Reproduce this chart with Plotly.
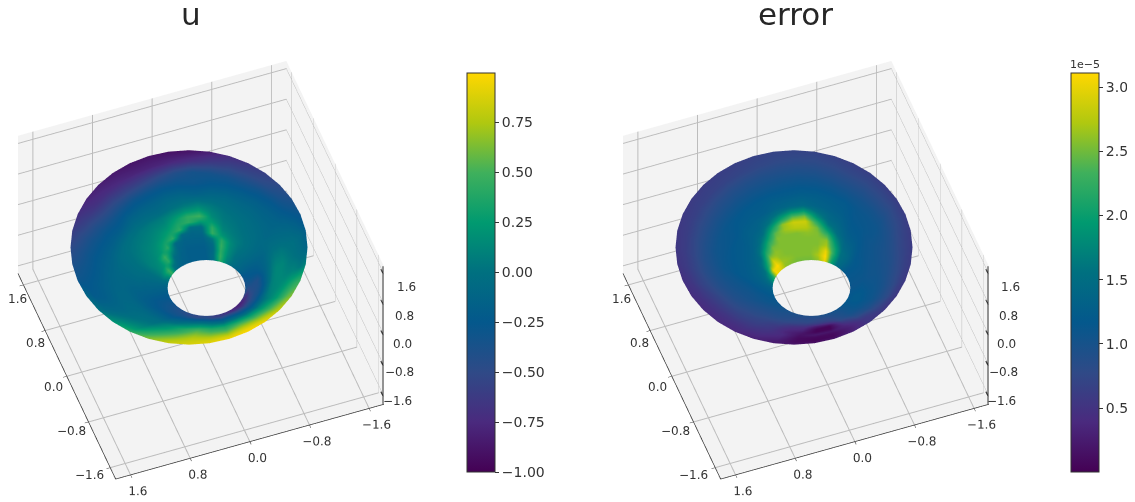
import numpy as np
import plotly.graph_objects as go

axis_ticks = [-1.6, -0.8, 0.0, 0.8, 1.6]
tick_text = ["\u22121.6", "\u22120.8", "0.0", "0.8", "1.6"]
cb_u_ticks = [-1.0, -0.75, -0.5, -0.25, 0.0, 0.25, 0.5, 0.75]
cb_u_text = ["\u22121.00", "\u22120.75", "\u22120.50", "\u22120.25", "0.00", "0.25", "0.50", "0.75"]
cb_err_ticks = [0.5, 1.0, 1.5, 2.0, 2.5, 3.0]
cb_err_text = ["0.5", "1.0", "1.5", "2.0", "2.5", "3.0"]
ring_t = [0, .05, .1, .15, .2, .25, .3, .35, .4, .45, .5, .6, .7, .8, .9, 1]
angles_deg = list(range(0, 360, 10))
# columns: angle 0,10,...,350 counter-clockwise from screen right; rows: ring_t, hole edge to rim
u_values = [
[-.35,-.38,-.3,-.2,-.15,-.05,.1,.4,-.05,-.2,-.2,-.2,-.18,-.15,-.05,.45,.1,-.05,-.15,-.2,-.25,-.3,-.35,-.4,-.42,-.45,-.5,-.5,-.55,-.6,-.65,-.7,-.75,-.7,-.6,-.45],
[-.4,-.3,-.25,-.15,-.08,0,.12,.45,-.05,-.2,-.2,-.2,-.17,-.1,.05,.45,.2,0,-.12,-.18,-.24,-.3,-.35,-.4,-.45,-.5,-.52,-.45,-.58,-.62,-.68,-.75,-.8,-.78,-.7,-.55],
[-.38,-.28,-.22,-.14,-.07,0,.15,.42,-.08,-.2,-.2,-.2,-.15,-.05,.4,.22,.12,0,-.1,-.16,-.22,-.28,-.33,-.37,-.38,-.42,-.42,-.4,-.5,-.55,-.55,-.65,-.72,-.65,-.55,-.45],
[-.4,-.27,-.2,-.12,-.05,.02,.15,.45,-.05,-.18,-.18,-.18,-.12,.15,.45,.18,.1,0,-.08,-.14,-.2,-.27,-.3,-.34,-.35,-.32,-.28,-.25,-.35,-.45,-.42,-.52,-.6,-.55,-.48,-.42],
[-.4,-.25,-.18,-.1,-.03,.03,.15,.4,.05,-.15,-.15,-.15,-.08,.4,.22,.14,.1,0,-.07,-.13,-.18,-.25,-.28,-.3,-.3,-.22,-.15,-.1,-.2,-.32,-.3,-.4,-.48,-.45,-.4,-.4],
[-.3,-.2,-.16,-.09,-.02,.04,.1,.2,.45,-.1,-.12,-.08,.42,.3,.18,.12,.08,0,-.06,-.12,-.17,-.22,-.25,-.25,-.25,-.15,-.05,0,-.08,-.2,-.2,-.3,-.38,-.38,-.36,-.35],
[-.2,-.15,-.14,-.08,-.02,.02,.06,.12,.42,-.05,-.05,.42,.3,.2,.14,.1,.06,0,-.05,-.1,-.16,-.2,-.22,-.2,-.2,-.08,.05,.1,.02,-.1,-.1,-.2,-.3,-.3,-.28,-.25],
[-.1,-.1,-.12,-.08,-.03,0,.04,.08,.25,.25,.42,.35,.2,.15,.1,.08,.04,-.01,-.05,-.1,-.15,-.18,-.18,-.16,-.15,-.02,.12,.2,.1,0,0,-.1,-.2,-.2,-.18,-.15],
[0,-.03,-.08,-.08,-.04,-.02,.02,.05,.15,.48,.42,.25,.12,.1,.07,.05,.02,-.02,-.06,-.1,-.14,-.15,-.14,-.12,-.1,.05,.2,.3,.2,.1,.1,0,-.1,-.1,-.05,-.02],
[.08,.03,-.05,-.08,-.06,-.03,0,.03,.1,.25,.2,.12,.06,.05,.04,.02,0,-.03,-.07,-.1,-.12,-.12,-.1,-.08,-.05,.12,.3,.42,.3,.2,.2,.1,0,0,.05,.08],
[.12,.05,-.03,-.1,-.07,-.05,-.03,0,.05,.1,.05,0,-.05,-.03,-.02,-.02,-.03,-.05,-.08,-.1,-.11,-.1,-.08,-.05,-.02,.18,.38,.5,.38,.3,.3,.2,.1,.05,.1,.12],
[.12,.05,-.05,-.12,-.12,-.1,-.1,-.08,-.1,-.15,-.12,-.12,-.15,-.15,-.15,-.2,-.18,-.16,-.15,-.13,-.12,-.1,-.07,-.02,.02,.25,.45,.6,.5,.42,.5,.38,.25,.15,.14,.13],
[.05,0,-.08,-.15,-.17,-.18,-.2,-.22,-.25,-.3,-.28,-.28,-.3,-.3,-.32,-.32,-.28,-.25,-.22,-.2,-.17,-.15,-.1,0,.08,.35,.55,.7,.62,.55,.65,.55,.4,.25,.2,.1],
[0,-.02,-.12,-.22,-.26,-.3,-.35,-.35,-.35,-.35,-.42,-.5,-.55,-.55,-.52,-.5,-.42,-.35,-.3,-.27,-.22,-.2,-.1,.05,.15,.45,.65,.78,.75,.7,.8,.7,.55,.4,.3,.1],
[-.05,-.08,-.2,-.32,-.4,-.48,-.52,-.55,-.62,-.7,-.75,-.78,-.78,-.75,-.72,-.68,-.58,-.48,-.4,-.33,-.27,-.22,-.08,.12,.25,.55,.75,.83,.85,.85,.93,.85,.68,.55,.4,.05],
[-.12,-.2,-.3,-.4,-.5,-.58,-.65,-.72,-.82,-.9,-.9,-.88,-.88,-.85,-.82,-.78,-.7,-.6,-.5,-.4,-.3,-.1,0,.2,.4,.65,.82,.86,.9,.95,.98,.95,.8,.65,.45,.1],
]
# error values in units of 1e-5, same grid
err_values = [
[1.1,1.12,1.13,1.15,1.3,1.5,2.0,3.0,2.6,2.5,2.5,2.5,2.55,2.6,2.9,3.1,2.2,1.7,1.35,1.25,1.15,1.1,1.05,1.0,.95,.92,.9,.9,.92,.95,1.0,1.05,1.1,1.15,1.15,1.12],
[1.1,1.12,1.14,1.18,1.35,1.55,2.1,3.1,2.7,2.55,2.55,2.55,2.6,2.65,3.1,3.0,1.9,1.55,1.32,1.22,1.15,1.1,1.05,1.0,.95,.92,.88,.88,.9,.92,.97,1.02,1.1,1.17,1.18,1.15],
[1.1,1.12,1.15,1.2,1.4,1.55,2.2,3.0,2.6,2.55,2.55,2.55,2.55,2.6,2.9,2.2,1.6,1.42,1.3,1.2,1.12,1.1,1.03,.98,.93,.9,.85,.85,.85,.88,.95,1.0,1.1,1.18,1.2,1.15],
[1.1,1.12,1.15,1.2,1.4,1.55,2.1,2.7,2.55,2.55,2.55,2.55,2.55,2.6,2.5,1.8,1.45,1.35,1.27,1.18,1.1,1.08,1.0,.95,.92,.87,.82,.82,.8,.82,.92,1.0,1.1,1.2,1.2,1.15],
[1.1,1.12,1.15,1.18,1.35,1.45,1.9,2.6,2.55,2.55,2.55,2.55,2.55,2.5,2.1,1.5,1.35,1.3,1.25,1.15,1.08,1.05,.98,.93,.9,.85,.8,.8,.75,.78,.9,1.0,1.12,1.2,1.2,1.15],
[1.08,1.1,1.13,1.16,1.3,1.38,1.7,2.3,2.55,2.6,2.55,2.55,2.55,2.2,1.7,1.4,1.3,1.25,1.22,1.12,1.05,1.03,.95,.9,.87,.82,.75,.75,.7,.72,.88,1.0,1.12,1.2,1.18,1.12],
[1.06,1.08,1.1,1.14,1.25,1.3,1.5,1.9,2.5,2.75,2.75,2.65,2.4,1.8,1.45,1.3,1.25,1.22,1.2,1.1,1.03,1.0,.93,.87,.84,.78,.7,.65,.62,.65,.85,1.0,1.12,1.18,1.15,1.1],
[1.05,1.06,1.08,1.12,1.2,1.25,1.42,1.6,2.2,2.85,2.85,2.6,2.0,1.5,1.35,1.25,1.22,1.2,1.18,1.08,1.02,.98,.9,.85,.8,.72,.6,.55,.45,.52,.82,1.0,1.1,1.15,1.12,1.08],
[1.05,1.05,1.07,1.1,1.17,1.2,1.35,1.45,1.8,2.5,2.4,2.0,1.6,1.35,1.3,1.22,1.2,1.18,1.15,1.06,1.0,.95,.88,.82,.75,.68,.5,.45,.25,.35,.8,.98,1.08,1.12,1.1,1.07],
[1.03,1.03,1.05,1.08,1.15,1.18,1.3,1.38,1.55,1.9,1.8,1.6,1.4,1.3,1.27,1.2,1.18,1.15,1.12,1.04,.98,.92,.85,.8,.72,.62,.45,.38,.15,.15,.7,.95,1.05,1.1,1.08,1.05],
[1.0,1.0,1.03,1.1,1.13,1.15,1.25,1.3,1.35,1.45,1.4,1.35,1.25,1.25,1.22,1.15,1.13,1.12,1.1,1.02,.95,.9,.82,.75,.7,.58,.4,.35,.05,.05,.6,.9,1.0,1.08,1.05,1.02],
[.95,.95,1.0,1.08,1.1,1.12,1.2,1.22,1.25,1.25,1.22,1.22,1.2,1.18,1.15,1.12,1.08,1.05,1.0,.95,.88,.8,.75,.7,.65,.55,.35,.22,.05,.05,.45,.8,.95,1.0,.98,.95],
[.85,.87,.93,1.0,1.02,1.03,1.05,1.08,1.1,1.1,1.08,1.06,1.05,1.03,1.0,.98,.95,.93,.9,.85,.78,.7,.65,.62,.58,.5,.4,.15,.22,.2,.35,.65,.82,.9,.88,.85],
[.75,.76,.82,.88,.88,.9,.9,.92,.95,.95,.93,.92,.9,.88,.85,.82,.8,.78,.75,.72,.68,.6,.55,.52,.5,.45,.35,.1,.08,.1,.3,.55,.72,.8,.78,.76],
[.67,.68,.72,.75,.75,.76,.75,.78,.8,.8,.78,.75,.72,.7,.68,.67,.65,.63,.62,.6,.55,.5,.47,.45,.43,.38,.28,.1,.05,.08,.3,.55,.62,.65,.65,.66],
[.6,.6,.62,.62,.63,.65,.65,.68,.7,.7,.7,.68,.65,.63,.62,.6,.58,.56,.55,.52,.48,.45,.42,.4,.38,.32,.25,.2,.15,.2,.35,.55,.55,.55,.58,.6],
]
hole_rim_rx = [0.49, 1.494]
hole_rim_ry = [0.46, 1.60]
hole_rim_shift = [0.069, -0.151]
hole_rim_z = [-0.47, 0.59]
view_phi = 20.0
view_elev = 50.0

colors = [[0.0, "#440154"], [0.125, "#4a2a7e"], [0.25, "#2f4a87"], [0.375, "#04588c"], [0.5, "#007080"],
          [0.625, "#009a70"], [0.75, "#3fb05c"], [0.875, "#b0c810"], [1.0, "#ffd700"]]

def px(v): return (v-8)/1135
def py(v): return 1-(v-8)/502

phi = np.radians(view_phi); el = np.radians(view_elev)
e1 = np.array([-np.sin(phi), -np.cos(phi)]); e2 = np.array([np.cos(phi), -np.sin(phi)])
th = np.radians(np.array(angles_deg + [360]))
T = np.array(ring_t)
Rx = np.interp(T, [0, 1], hole_rim_rx)[:, None]; Ry = np.interp(T, [0, 1], hole_rim_ry)[:, None]
S = np.interp(T, [0, 1], hole_rim_shift)[:, None]; Z = np.interp(T, [0, 1], hole_rim_z)[:, None]
a = S + Rx*np.cos(th); b = Ry*np.sin(th)
x = a*e1[0] + b*e2[0]
y = a*e1[1] + b*e2[1]
z = np.repeat(Z, len(th), axis=1)
def closed(m):
    m = np.array(m, float)
    return np.hstack([m, m[:, :1]])

LO, HI = -1.8, 1.8
def axis(show=True, labels=True):
    return dict(range=[LO, HI], tickvals=axis_ticks, ticktext=tick_text, tickangle=0,
                showbackground=True, backgroundcolor="#f3f3f3", gridcolor="#bcbcbc", gridwidth=2,
                showline=show, linecolor="#333", linewidth=1.5, ticks="outside" if show else "", ticklen=4, tickcolor="#333",
                showticklabels=labels, tickfont=dict(family="DejaVu Sans", size=12, color="#333"),
                title="", zeroline=False, showspikes=False)

k = 1.19
eye_d = 1.75
eye = dict(x=-np.cos(phi)*np.cos(el)*eye_d, y=np.sin(phi)*np.cos(el)*eye_d, z=np.sin(el)*eye_d)
scene = dict(xaxis=axis(True, False), yaxis=axis(), zaxis=axis(False, False), aspectmode="manual", aspectratio=dict(x=k, y=k, z=0.75*k),
             camera=dict(eye=eye, center=dict(x=0, y=0, z=0), up=dict(x=0, y=0, z=1), projection=dict(type="orthographic")))

lighting = dict(ambient=1, diffuse=0, specular=0, roughness=1, fresnel=0)
nohl = dict(x=dict(highlight=False), y=dict(highlight=False), z=dict(highlight=False))

def z_axis(sc):
    e = LO+0.01
    xs, ys, zs = [e, e, None], [e, e, None], [LO, HI, None]
    for v in axis_ticks:
        xs += [e, e+0.08, None]; ys += [e, e, None]; zs += [v, v, None]
    return go.Scatter3d(x=xs, y=ys, z=zs, mode="lines", line=dict(color="#333", width=2), hoverinfo="skip", scene=sc, showlegend=False)

fig = go.Figure()
cbc = dict(y=py(472), yanchor="bottom", len=399/502, lenmode="fraction", thickness=28, xanchor="left",
           outlinecolor="#333", outlinewidth=1, ticks="outside", ticklen=4, tickcolor="#333",
           tickfont=dict(family="DejaVu Sans", size=14, color="#333"), xpad=0, ypad=0)
fig.add_surface(x=x, y=y, z=z, surfacecolor=closed(u_values), colorscale=colors, cmin=-1, cmax=0.995, lighting=lighting, scene="scene",
    hoverinfo="skip", contours=nohl, colorbar=dict(x=px(467), tickvals=cb_u_ticks, ticktext=cb_u_text, **cbc))
fig.add_surface(x=x, y=y, z=z, surfacecolor=closed(err_values), colorscale=colors, cmin=0.002, cmax=3.11, lighting=lighting, scene="scene2",
    hoverinfo="skip", contours=nohl, colorbar=dict(x=px(1071), tickvals=cb_err_ticks, ticktext=cb_err_text, **cbc))
fig.add_traces([z_axis("scene"), z_axis("scene2")])

tt_font = dict(family="DejaVu Sans", size=31, color="#262626")
tf = dict(family="DejaVu Sans", size=12, color="#333")
annos = [dict(text="u", x=px(191), y=py(14), xref="paper", yref="paper", xanchor="center", yanchor="middle", showarrow=False, font=tt_font),
         dict(text="error", x=px(795), y=py(14), xref="paper", yref="paper", xanchor="center", yanchor="middle", showarrow=False, font=tt_font),
         dict(text="1e\u22125", x=px(1085), y=py(64), xref="paper", yref="paper", xanchor="center", yanchor="middle", showarrow=False, font=dict(family="DejaVu Sans", size=11, color="#333"))]
for base in (0, 604):
    for v, t in zip(axis_ticks, tick_text):
        annos.append(dict(text=t, x=px(base+402+2.8*v), y=py(344-35.6*v), xref="paper", yref="paper", xanchor="center", yanchor="middle", showarrow=False, font=tf))
        annos.append(dict(text=t, x=px(base+53.5-22.2*v), y=py(387-55*v), xref="paper", yref="paper", xanchor="center", yanchor="middle", showarrow=False, font=tf))
dom_y = [0, py(30)]
fig.update_layout(width=1135, height=502, margin=dict(l=0, r=0, t=0, b=0), paper_bgcolor="white", showlegend=False,
    scene=dict(domain=dict(x=[px(8), px(394)], y=dom_y), **scene),
    scene2=dict(domain=dict(x=[px(613), px(999)], y=dom_y), **scene),
    annotations=annos)
fig.write_html("out.html")
